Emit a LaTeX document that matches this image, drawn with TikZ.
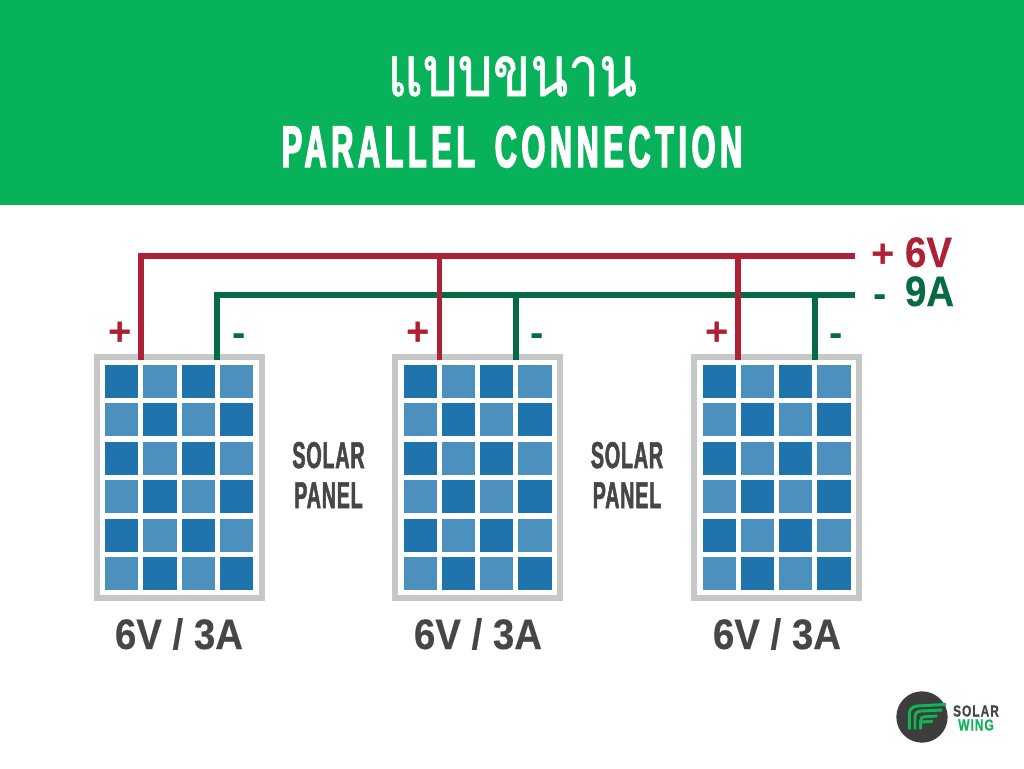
\documentclass[tikz,border=0pt]{standalone}
\usepackage{fontspec}
\setmainfont{Liberation Sans}
\newfontfamily\thaifont[Script=Thai,FakeStretch=0.78,FakeBold=0.8]{Loma}
\newfontfamily\titlefont[FakeStretch=0.52,LetterSpace=8,FakeBold=2.5,WordSpace=1.5]{Liberation Sans Bold}
\newfontfamily\narrowfont[FakeStretch=0.53,LetterSpace=2,FakeBold=1.4]{Liberation Sans Bold}
\newfontfamily\labelfont[FakeStretch=0.9,FakeBold=0.3]{Liberation Sans Bold}
\newfontfamily\signfont{Liberation Sans Bold}
\newfontfamily\logofont[FakeStretch=0.75,LetterSpace=6,FakeBold=0.6]{Liberation Sans Bold}
\definecolor{hdr}{HTML}{07B25B}
\definecolor{redw}{HTML}{AE2035}
\definecolor{greenw}{HTML}{066B42}
\definecolor{frame}{HTML}{C6C8C8}
\definecolor{celld}{HTML}{1F74AE}
\definecolor{celll}{HTML}{4C90BE}
\definecolor{ink}{HTML}{464646}
\definecolor{logod}{HTML}{3D3D3D}
\definecolor{logog}{HTML}{10B558}
\tikzset{
  x=0.75pt,y=-0.75pt,
  panelframe/.style={draw=frame,line width=4.5pt,fill=white,rectangle,minimum width=123.4pt,minimum height=180.75pt,inner sep=0pt},
  redwire/.style={draw=redw,line width=3.8pt},
  greenwire/.style={draw=greenw,line width=3.8pt},
  txt/.style={inner sep=0pt,outer sep=0pt,anchor=base},
  polar/.style={inner sep=0pt,outer sep=0pt,anchor=center,font=\signfont\fontsize{30}{30}\selectfont},
  rating/.style={txt,text=ink,font=\labelfont\fontsize{32}{32}\selectfont},
  panellabel/.style={txt,text=ink,font=\narrowfont\fontsize{28}{28}\selectfont},
  buslabel/.style={txt,anchor=base west,font=\labelfont\fontsize{32}{32}\selectfont},
  logotext/.style={txt,font=\logofont\fontsize{12}{12}\selectfont},
  wing/.style={draw=logog,line width=2.2pt},
  darkcell/.style={fill=celld},
  lightcell/.style={fill=celll},
}
\begin{document}
\begin{tikzpicture}
\useasboundingbox (0,0) rectangle (1024,768);
\fill[white] (0,0) rectangle (1024,768);
\fill[hdr] (0,0) rectangle (1024,205);
\node[txt,text=white,font=\thaifont\fontsize{53}{53}\selectfont] (title) at (512,96) {แบบขนาน};
\node[txt,text=white,font=\titlefont\fontsize{44}{44}\selectfont] (subtitle) at (512,167) {PARALLEL CONNECTION};

\node[panelframe] (p1) at (179.25,477.5) {};
\node[panelframe] (p2) at (477.75,477.5) {};
\node[panelframe] (p3) at (776.75,477.5) {};
\foreach \o in {0,298.5,597.5}{
 \foreach \r in {0,...,5}{\foreach \c in {0,...,3}{
    \pgfmathtruncatemacro{\odd}{mod(\r+\c,2)}
    \ifnum\odd=0 \def\cs{darkcell}\else\def\cs{lightcell}\fi
    \path[\cs] ({\o+105+38.3*\c},{365+38.4*\r}) rectangle ++(33.3,33);
 }}
}

\coordinate (redend) at (855,256);
\coordinate (greenend) at (855,295);
\coordinate (r1) at (141,360);
\coordinate (r2) at (439.5,360);
\coordinate (r3) at (738,360);
\coordinate (g1) at (217,360);
\coordinate (g2) at (516,360);
\coordinate (g3) at (815,360);
\draw[greenwire] (g1) |- (greenend);
\draw[greenwire] (g2) -- (g2 |- greenend);
\draw[greenwire] (g3) -- (g3 |- greenend);
\draw[redwire] (r1) |- (redend);
\draw[redwire] (r2) -- (r2 |- redend);
\draw[redwire] (r3) -- (r3 |- redend);

\foreach \n/\x in {a/120,b/418.5,c/717}{\node[polar,text=redw] (plus\n) at (\x,334) {+};}
\foreach \n/\x in {a/239,b/537.5,c/836}{\node[polar,text=greenw] (minus\n) at (\x,340) {-};}

\node[polar,text=redw] (pbus) at (883,256) {+};
\node[polar,text=greenw] (mbus) at (880,301) {-};
\node[buslabel,text=redw] (v) at (905,267) {6V};
\node[buslabel,text=greenw] (a) at (905,306) {9A};

\foreach \n/\x in {a/179,b/478,c/777}{\node[rating] (rate\n) at (\x,649) {6V / 3A};}
\foreach \n/\x in {a/328.5,b/627}{
  \node[panellabel] (solar\n) at (\x,468) {SOLAR};
  \node[panellabel] (panel\n) at (\x,508) {PANEL};
}

% logo
\node[circle,fill=logod,minimum size=38.5pt,inner sep=0pt] (logo) at (922,717) {};
\begin{scope}[shift={(880,680)},x=0.25pt,y=-0.25pt]
\draw[wing] (88,148) -- (88,102) .. controls (88,88) and (96,80) .. (112,78) -- (198,73);
\draw[wing] (105,148) -- (105,110) .. controls (105,98) and (112,94) .. (124,93) -- (186,90);
\draw[wing] (122,148) -- (122,122) .. controls (122,114) and (126,110) .. (134,110) -- (172,108);
\draw[wing] (122,126) -- (158,124);
\end{scope}
\node[logotext,text=ink] (logos) at (976,716.5) {SOLAR};
\node[logotext,text=logog] (logow) at (976,730.5) {WING};
\end{tikzpicture}
\end{document}
